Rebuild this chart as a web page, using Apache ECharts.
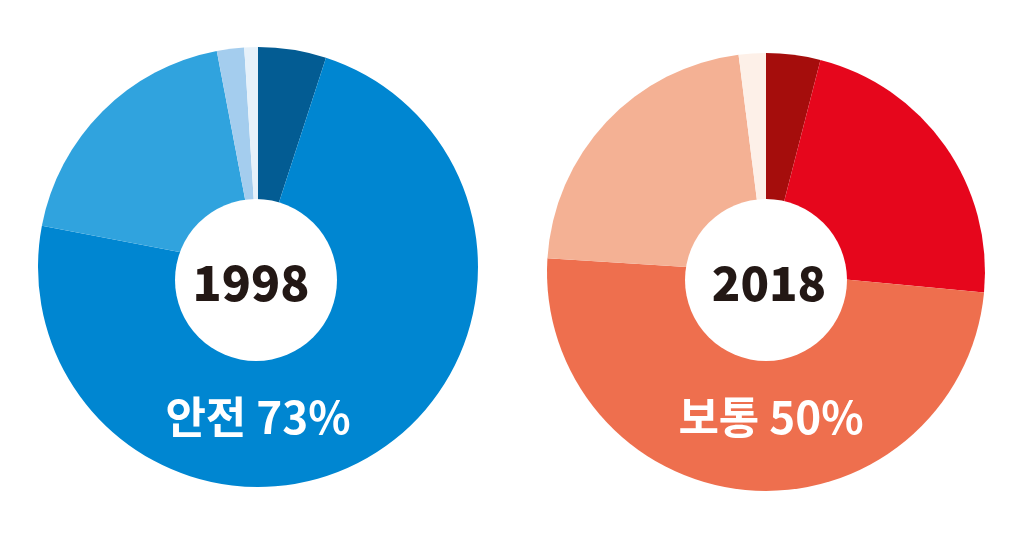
<!DOCTYPE html>
<html>
<head>
<meta charset="utf-8">
<script src="https://cdn.jsdelivr.net/npm/echarts@6/dist/echarts.min.js"></script>
<style>
html,body{margin:0;padding:0;background:#fff;}
#c{width:1024px;height:540px;}
</style>
</head>
<body>
<div id="c"></div>
<script>
const categories = ['매우 안전', '안전', '보통', '불안', '매우 불안'];
const years = ['1998', '2018'];
const values1998 = [5, 73, 19, 2, 1];
const values2018 = [4, 22.5, 49.5, 22, 2];
const colors1998 = ['#035c93', '#0086d1', '#30a3de', '#a4cdee', '#e6f1fa'];
const colors2018 = ['#a50d0c', '#e6061c', '#ee6f4e', '#f4b194', '#fdf0e8'];
const highlight1998 = 1; // 안전
const highlight2018 = 2; // 보통

const chart = echarts.init(document.getElementById('c'), null, {renderer: 'canvas'});

function mkData(vals, cols) {
  return vals.map((v, i) => ({name: categories[i], value: v, itemStyle: {color: cols[i]}}));
}

const FONT = '"Noto Sans CJK KR", "Noto Sans", sans-serif';

chart.setOption({
  backgroundColor: '#ffffff',
  animation: false,
  series: [
    {
      type: 'pie',
      center: [258, 267],
      radius: [0, 220],
      startAngle: 90,
      clockwise: true,
      label: {show: false},
      labelLine: {show: false},
      emphasis: {disabled: true},
      itemStyle: {borderWidth: 0},
      data: mkData(values1998, colors1998)
    },
    {
      type: 'pie',
      center: [766, 272],
      radius: [0, 219],
      startAngle: 90,
      clockwise: true,
      label: {show: false},
      labelLine: {show: false},
      emphasis: {disabled: true},
      itemStyle: {borderWidth: 0},
      data: mkData(values2018, colors2018)
    }
  ],
  graphic: [
    {type: 'circle', shape: {cx: 256, cy: 280, r: 81}, style: {fill: '#ffffff'}, z: 10},
    {type: 'circle', shape: {cx: 766, cy: 280, r: 81}, style: {fill: '#ffffff'}, z: 10},
    {type: 'text', x: 251, y: 283, z: 11,
     style: {text: years[0], fill: '#231815', font: '900 48px ' + FONT, align: 'center', verticalAlign: 'middle'}},
    {type: 'text', x: 769, y: 283, z: 11,
     style: {text: years[1], fill: '#231815', font: '900 47px ' + FONT, align: 'center', verticalAlign: 'middle'}},
    {type: 'text', x: 258, y: 417, z: 11,
     style: {text: categories[highlight1998] + ' ' + Math.round(values1998[highlight1998]) + '%', fill: '#ffffff', font: '700 44px ' + FONT, align: 'center', verticalAlign: 'middle'}},
    {type: 'text', x: 771, y: 417, z: 11,
     style: {text: categories[highlight2018] + ' ' + Math.round(values2018[highlight2018]) + '%', fill: '#ffffff', font: '700 44px ' + FONT, align: 'center', verticalAlign: 'middle'}}
  ]
});
</script>
</body>
</html>
